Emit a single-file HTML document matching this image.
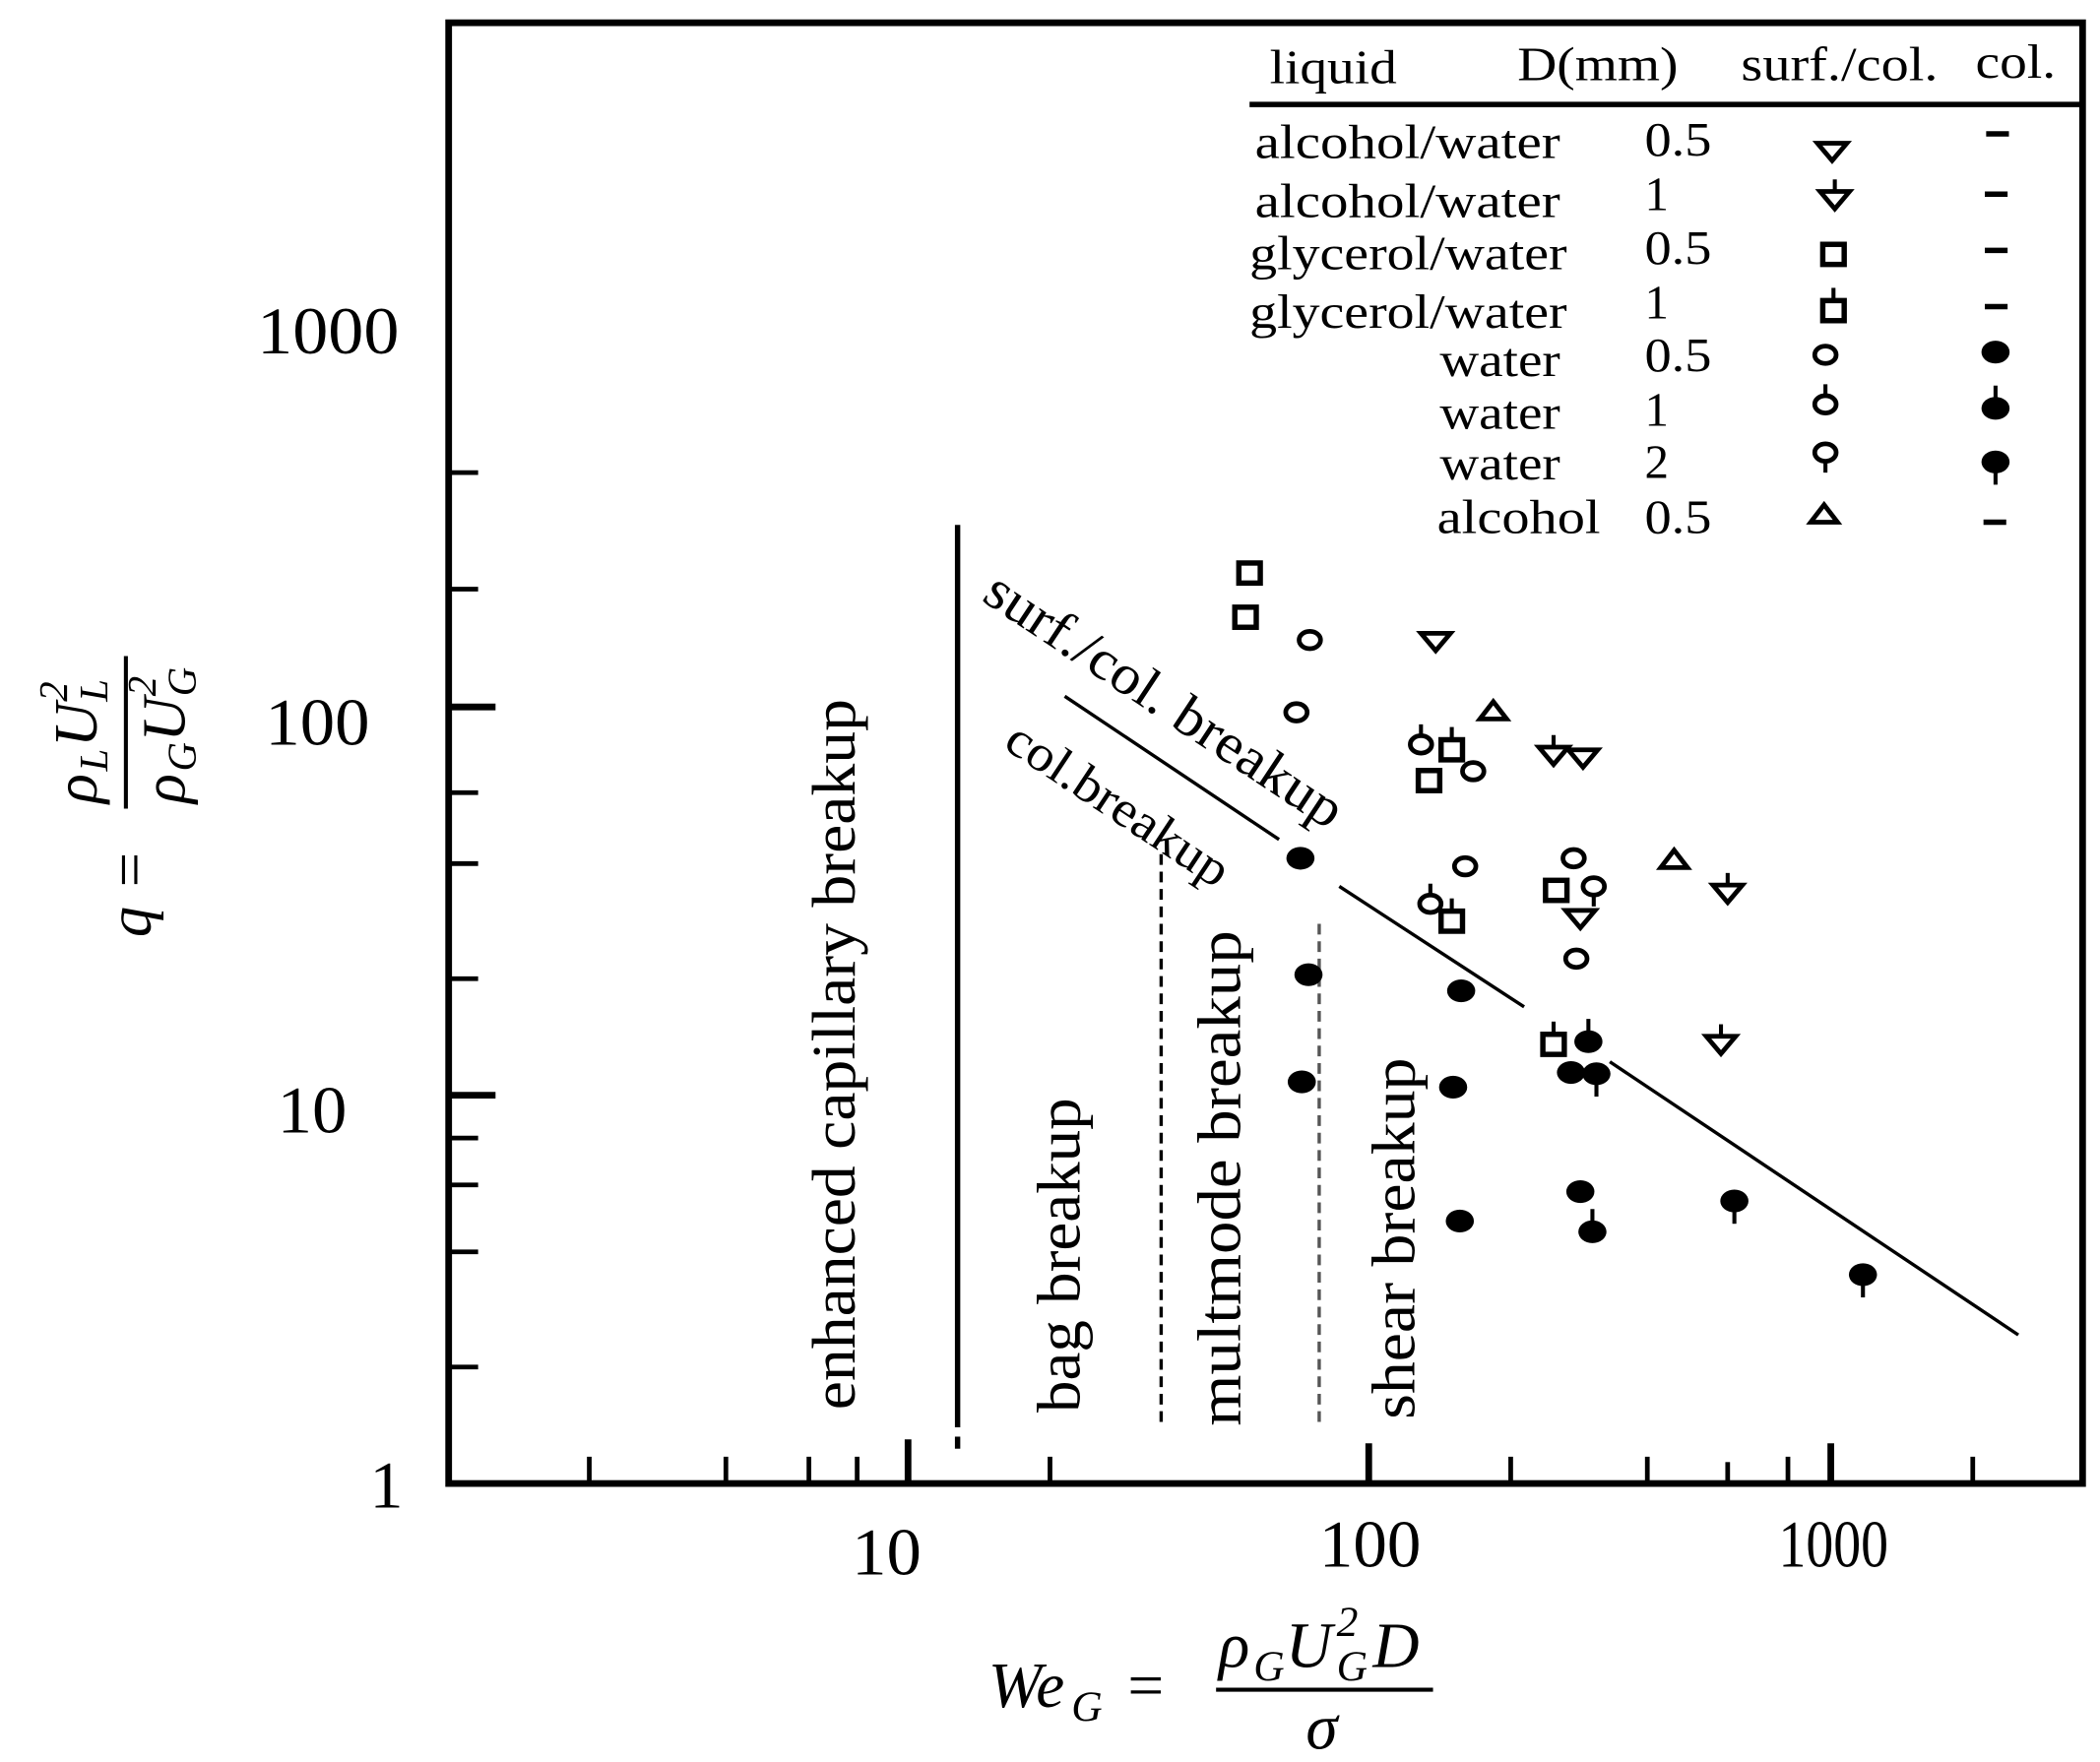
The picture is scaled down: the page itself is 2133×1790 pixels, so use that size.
<!DOCTYPE html>
<html><head><meta charset="utf-8"><style>
html,body{margin:0;padding:0;background:#fff;}
svg{display:block;}
text{font-family:"Liberation Serif",serif;fill:#000;}
</style></head><body>
<svg width="2133" height="1790" viewBox="0 0 1568 1316" preserveAspectRatio="none" xmlns="http://www.w3.org/2000/svg">
<defs>
<g id="sq"><rect x="-8" y="-7.5" width="16" height="15" fill="none" stroke="#000" stroke-width="4"/></g>
<g id="sqt"><rect x="-8" y="-7.5" width="16" height="15" fill="none" stroke="#000" stroke-width="4"/><line x1="0" y1="-7" x2="0" y2="-17" stroke="#000" stroke-width="3"/></g>
<g id="oc"><ellipse rx="8" ry="6.5" fill="none" stroke="#000" stroke-width="3.5"/></g>
<g id="oct"><ellipse rx="8" ry="6.5" fill="none" stroke="#000" stroke-width="3.5"/><line x1="0" y1="-6" x2="0" y2="-15" stroke="#000" stroke-width="3"/></g>
<g id="ocb"><ellipse rx="8" ry="6.5" fill="none" stroke="#000" stroke-width="3.5"/><line x1="0" y1="6" x2="0" y2="15" stroke="#000" stroke-width="3"/></g>
<g id="dt"><path d="M-11,-6 L11,-6 L0,7 Z" fill="none" stroke="#000" stroke-width="3.5"/></g>
<g id="dtt"><path d="M-11,-4 L11,-4 L0,9 Z" fill="none" stroke="#000" stroke-width="3.5"/><line x1="0" y1="-4" x2="0" y2="-13" stroke="#000" stroke-width="3"/></g>
<g id="ut"><path d="M-10,6 L10,6 L0,-7 Z" fill="none" stroke="#000" stroke-width="3.5"/></g>
<g id="fc"><ellipse rx="10.5" ry="8.5" fill="#000"/></g>
<g id="fct"><ellipse rx="10.5" ry="8.5" fill="#000"/><line x1="0" y1="-6" x2="0" y2="-17" stroke="#000" stroke-width="3"/></g>
<g id="fcb"><ellipse rx="10.5" ry="8.5" fill="#000"/><line x1="0" y1="6" x2="0" y2="17" stroke="#000" stroke-width="3"/></g>
</defs>

<rect x="335" y="17" width="1220" height="1091" fill="none" stroke="#000" stroke-width="5"/>

<g stroke="#000" stroke-width="3.5">
<line x1="440" y1="1108" x2="440" y2="1088"/>
<line x1="542" y1="1108" x2="542" y2="1088"/>
<line x1="604" y1="1108" x2="604" y2="1088"/>
<line x1="640" y1="1108" x2="640" y2="1088"/>
<line x1="784" y1="1108" x2="784" y2="1088"/>
<line x1="1128" y1="1108" x2="1128" y2="1088"/>
<line x1="1230" y1="1108" x2="1230" y2="1088"/>
<line x1="1290" y1="1108" x2="1290" y2="1092"/>
<line x1="1335" y1="1108" x2="1335" y2="1088"/>
<line x1="1473" y1="1108" x2="1473" y2="1088"/>
</g>
<g stroke="#000" stroke-width="5">
<line x1="678" y1="1108" x2="678" y2="1075"/>
<line x1="1022" y1="1108" x2="1022" y2="1078"/>
<line x1="1367" y1="1108" x2="1367" y2="1078"/>
</g>
<g stroke="#000" stroke-width="3.5">
<line x1="335" y1="353" x2="357" y2="353"/>
<line x1="335" y1="440" x2="357" y2="440"/>
<line x1="335" y1="592" x2="357" y2="592"/>
<line x1="335" y1="645" x2="357" y2="645"/>
<line x1="335" y1="731" x2="357" y2="731"/>
<line x1="335" y1="850" x2="357" y2="850"/>
<line x1="335" y1="885" x2="357" y2="885"/>
<line x1="335" y1="935" x2="357" y2="935"/>
<line x1="335" y1="1021" x2="357" y2="1021"/>
</g>
<g stroke="#000" stroke-width="5">
<line x1="335" y1="528" x2="370" y2="528"/>
<line x1="335" y1="818" x2="370" y2="818"/>
</g>

<g font-size="50" lengthAdjust="spacingAndGlyphs">
<text x="192" y="264" textLength="106" lengthAdjust="spacingAndGlyphs">1000</text>
<text x="198" y="556" textLength="78" lengthAdjust="spacingAndGlyphs">100</text>
<text x="207" y="846" textLength="52" lengthAdjust="spacingAndGlyphs">10</text>
<text x="276" y="1126">1</text>
<text x="636" y="1176" textLength="52" lengthAdjust="spacingAndGlyphs">10</text>
<text x="985" y="1170" textLength="76" lengthAdjust="spacingAndGlyphs">100</text>
<text x="1328" y="1170" textLength="82" lengthAdjust="spacingAndGlyphs">1000</text>
</g>

<!-- y axis title -->
<g transform="translate(108,600) rotate(-90)" font-style="italic" font-size="46">
<text x="-100" y="4">q =</text>
<text y="-36"><tspan x="0">ρ</tspan><tspan x="24" dy="8" font-size="30">L</tspan><tspan x="42" y="-36">U</tspan><tspan x="76" y="-58" font-size="30">2</tspan><tspan x="76" y="-28" font-size="30">L</tspan></text>
<line x1="-4" y1="-14" x2="110" y2="-14" stroke="#000" stroke-width="3"/>
<text y="30"><tspan x="0">ρ</tspan><tspan x="24" dy="8" font-size="30">G</tspan><tspan x="46" y="30">U</tspan><tspan x="80" y="8" font-size="30">2</tspan><tspan x="80" y="38" font-size="30">G</tspan></text>
</g>
<!-- x axis title -->
<g font-style="italic" font-size="48">
<text x="738" y="1275">We</text>
<text x="800" y="1285" font-size="32">G</text>
<text x="842" y="1275" font-style="normal">=</text>
<text x="910" y="1245">ρ</text>
<text x="936" y="1255" font-size="32">G</text>
<text x="960" y="1245">U</text>
<text x="998" y="1222" font-size="32">2</text>
<text x="998" y="1255" font-size="32">G</text>
<text x="1025" y="1245">D</text>
<line x1="908" y1="1262" x2="1070" y2="1262" stroke="#000" stroke-width="3"/>
<text x="975" y="1306">σ</text>
</g>

<line x1="715" y1="392" x2="715" y2="1066" stroke="#000" stroke-width="4"/>
<line x1="715" y1="1073" x2="715" y2="1082" stroke="#000" stroke-width="4"/>
<line x1="867" y1="638" x2="867" y2="1066" stroke="#000" stroke-width="2.5" stroke-dasharray="8,5"/>
<line x1="985" y1="690" x2="985" y2="1066" stroke="#555" stroke-width="2.5" stroke-dasharray="8,5"/>
<g stroke="#000" stroke-width="2.5">
<line x1="795" y1="520" x2="955" y2="627"/>
<line x1="1000" y1="662" x2="1138" y2="752"/>
<line x1="1202" y1="793" x2="1507" y2="997"/>
</g>

<g font-size="46">
<text transform="translate(638,1053) rotate(-90)" textLength="531" lengthAdjust="spacingAndGlyphs">enhanced capillary breakup</text>
<text transform="translate(806,1055) rotate(-90)" textLength="235" lengthAdjust="spacingAndGlyphs">bag breakup</text>
<text transform="translate(926,1065) rotate(-90)" textLength="370" lengthAdjust="spacingAndGlyphs">multmode breakup</text>
<text transform="translate(1056,1060) rotate(-90)" textLength="270" lengthAdjust="spacingAndGlyphs">shear breakup</text>
<text transform="translate(732,448) rotate(33.5)" font-size="42" textLength="312" lengthAdjust="spacingAndGlyphs">surf./col. breakup</text>
<text transform="translate(748,558) rotate(33.5)" font-size="38" textLength="192" lengthAdjust="spacingAndGlyphs">col.breakup</text>
</g>

<use href="#sq" x="933" y="428"/>
<use href="#sq" x="930" y="461"/>
<use href="#sq" x="1067" y="583"/>
<use href="#sqt" x="1084" y="560"/>
<use href="#sqt" x="1084" y="688"/>
<use href="#sqt" x="1160" y="780"/>
<use href="#sq" x="1162" y="665"/>
<use href="#oc" x="978" y="478"/>
<use href="#oc" x="968" y="532"/>
<use href="#oct" x="1061" y="556"/>
<use href="#oc" x="1100" y="576"/>
<use href="#oc" x="1094" y="647"/>
<use href="#oct" x="1068" y="675"/>
<use href="#oc" x="1175" y="641"/>
<use href="#ocb" x="1190" y="662"/>
<use href="#oc" x="1177" y="716"/>
<use href="#dt" x="1072" y="479"/>
<use href="#dtt" x="1160" y="562"/>
<use href="#dt" x="1182" y="566"/>
<use href="#dt" x="1180" y="686"/>
<use href="#dtt" x="1290" y="665"/>
<use href="#dtt" x="1285" y="778"/>
<use href="#ut" x="1115" y="531"/>
<use href="#ut" x="1250" y="642"/>
<use href="#fc" x="971" y="641"/>
<use href="#fc" x="977" y="728"/>
<use href="#fc" x="972" y="808"/>
<use href="#fc" x="1091" y="740"/>
<use href="#fc" x="1085" y="812"/>
<use href="#fc" x="1090" y="912"/>
<use href="#fc" x="1180" y="890"/>
<use href="#fct" x="1189" y="920"/>
<use href="#fct" x="1186" y="778"/>
<use href="#fc" x="1173" y="801"/>
<use href="#fcb" x="1192" y="802"/>
<use href="#fcb" x="1295" y="897"/>
<use href="#fcb" x="1391" y="952"/>

<g font-size="36">
<text x="948" y="62" textLength="95" lengthAdjust="spacingAndGlyphs">liquid</text>
<text x="1133" y="60" textLength="120" lengthAdjust="spacingAndGlyphs">D(mm)</text>
<text x="1300" y="60" textLength="147" lengthAdjust="spacingAndGlyphs">surf./col.</text>
<text x="1475" y="58" textLength="60" lengthAdjust="spacingAndGlyphs">col.</text>
</g>
<line x1="933" y1="78" x2="1554" y2="78" stroke="#000" stroke-width="4"/>
<g font-size="36">
<text x="937" y="118" textLength="228" lengthAdjust="spacingAndGlyphs">alcohol/water</text>
<text x="937" y="162" textLength="228" lengthAdjust="spacingAndGlyphs">alcohol/water</text>
<text x="933" y="201" textLength="237" lengthAdjust="spacingAndGlyphs">glycerol/water</text>
<text x="933" y="245" textLength="237" lengthAdjust="spacingAndGlyphs">glycerol/water</text>
<text x="1075" y="281" textLength="90" lengthAdjust="spacingAndGlyphs">water</text>
<text x="1075" y="320" textLength="90" lengthAdjust="spacingAndGlyphs">water</text>
<text x="1075" y="358" textLength="90" lengthAdjust="spacingAndGlyphs">water</text>
<text x="1073" y="398" textLength="122" lengthAdjust="spacingAndGlyphs">alcohol</text>
<text x="1228" y="116" textLength="50" lengthAdjust="spacingAndGlyphs">0.5</text>
<text x="1228" y="157">1</text>
<text x="1228" y="197" textLength="50" lengthAdjust="spacingAndGlyphs">0.5</text>
<text x="1228" y="238">1</text>
<text x="1228" y="277" textLength="50" lengthAdjust="spacingAndGlyphs">0.5</text>
<text x="1228" y="318">1</text>
<text x="1228" y="357">2</text>
<text x="1228" y="398" textLength="50" lengthAdjust="spacingAndGlyphs">0.5</text>
</g>
<use href="#dt" x="1368" y="113"/>
<use href="#dtt" x="1370" y="147"/>
<use href="#sq" x="1369" y="190"/>
<use href="#sqt" x="1369" y="232"/>
<use href="#oc" x="1363" y="265"/>
<use href="#oct" x="1363" y="302"/>
<use href="#ocb" x="1363" y="338"/>
<use href="#ut" x="1362" y="384"/>
<g stroke="#000" stroke-width="4">
<line x1="1483" y1="100" x2="1500" y2="100"/>
<line x1="1482" y1="145" x2="1499" y2="145"/>
<line x1="1482" y1="187" x2="1499" y2="187"/>
<line x1="1482" y1="229" x2="1499" y2="229"/>
<line x1="1481" y1="390" x2="1498" y2="390"/>
</g>
<use href="#fc" x="1490" y="263"/>
<use href="#fct" x="1490" y="305"/>
<use href="#fcb" x="1490" y="345"/>
</svg>
</body></html>
